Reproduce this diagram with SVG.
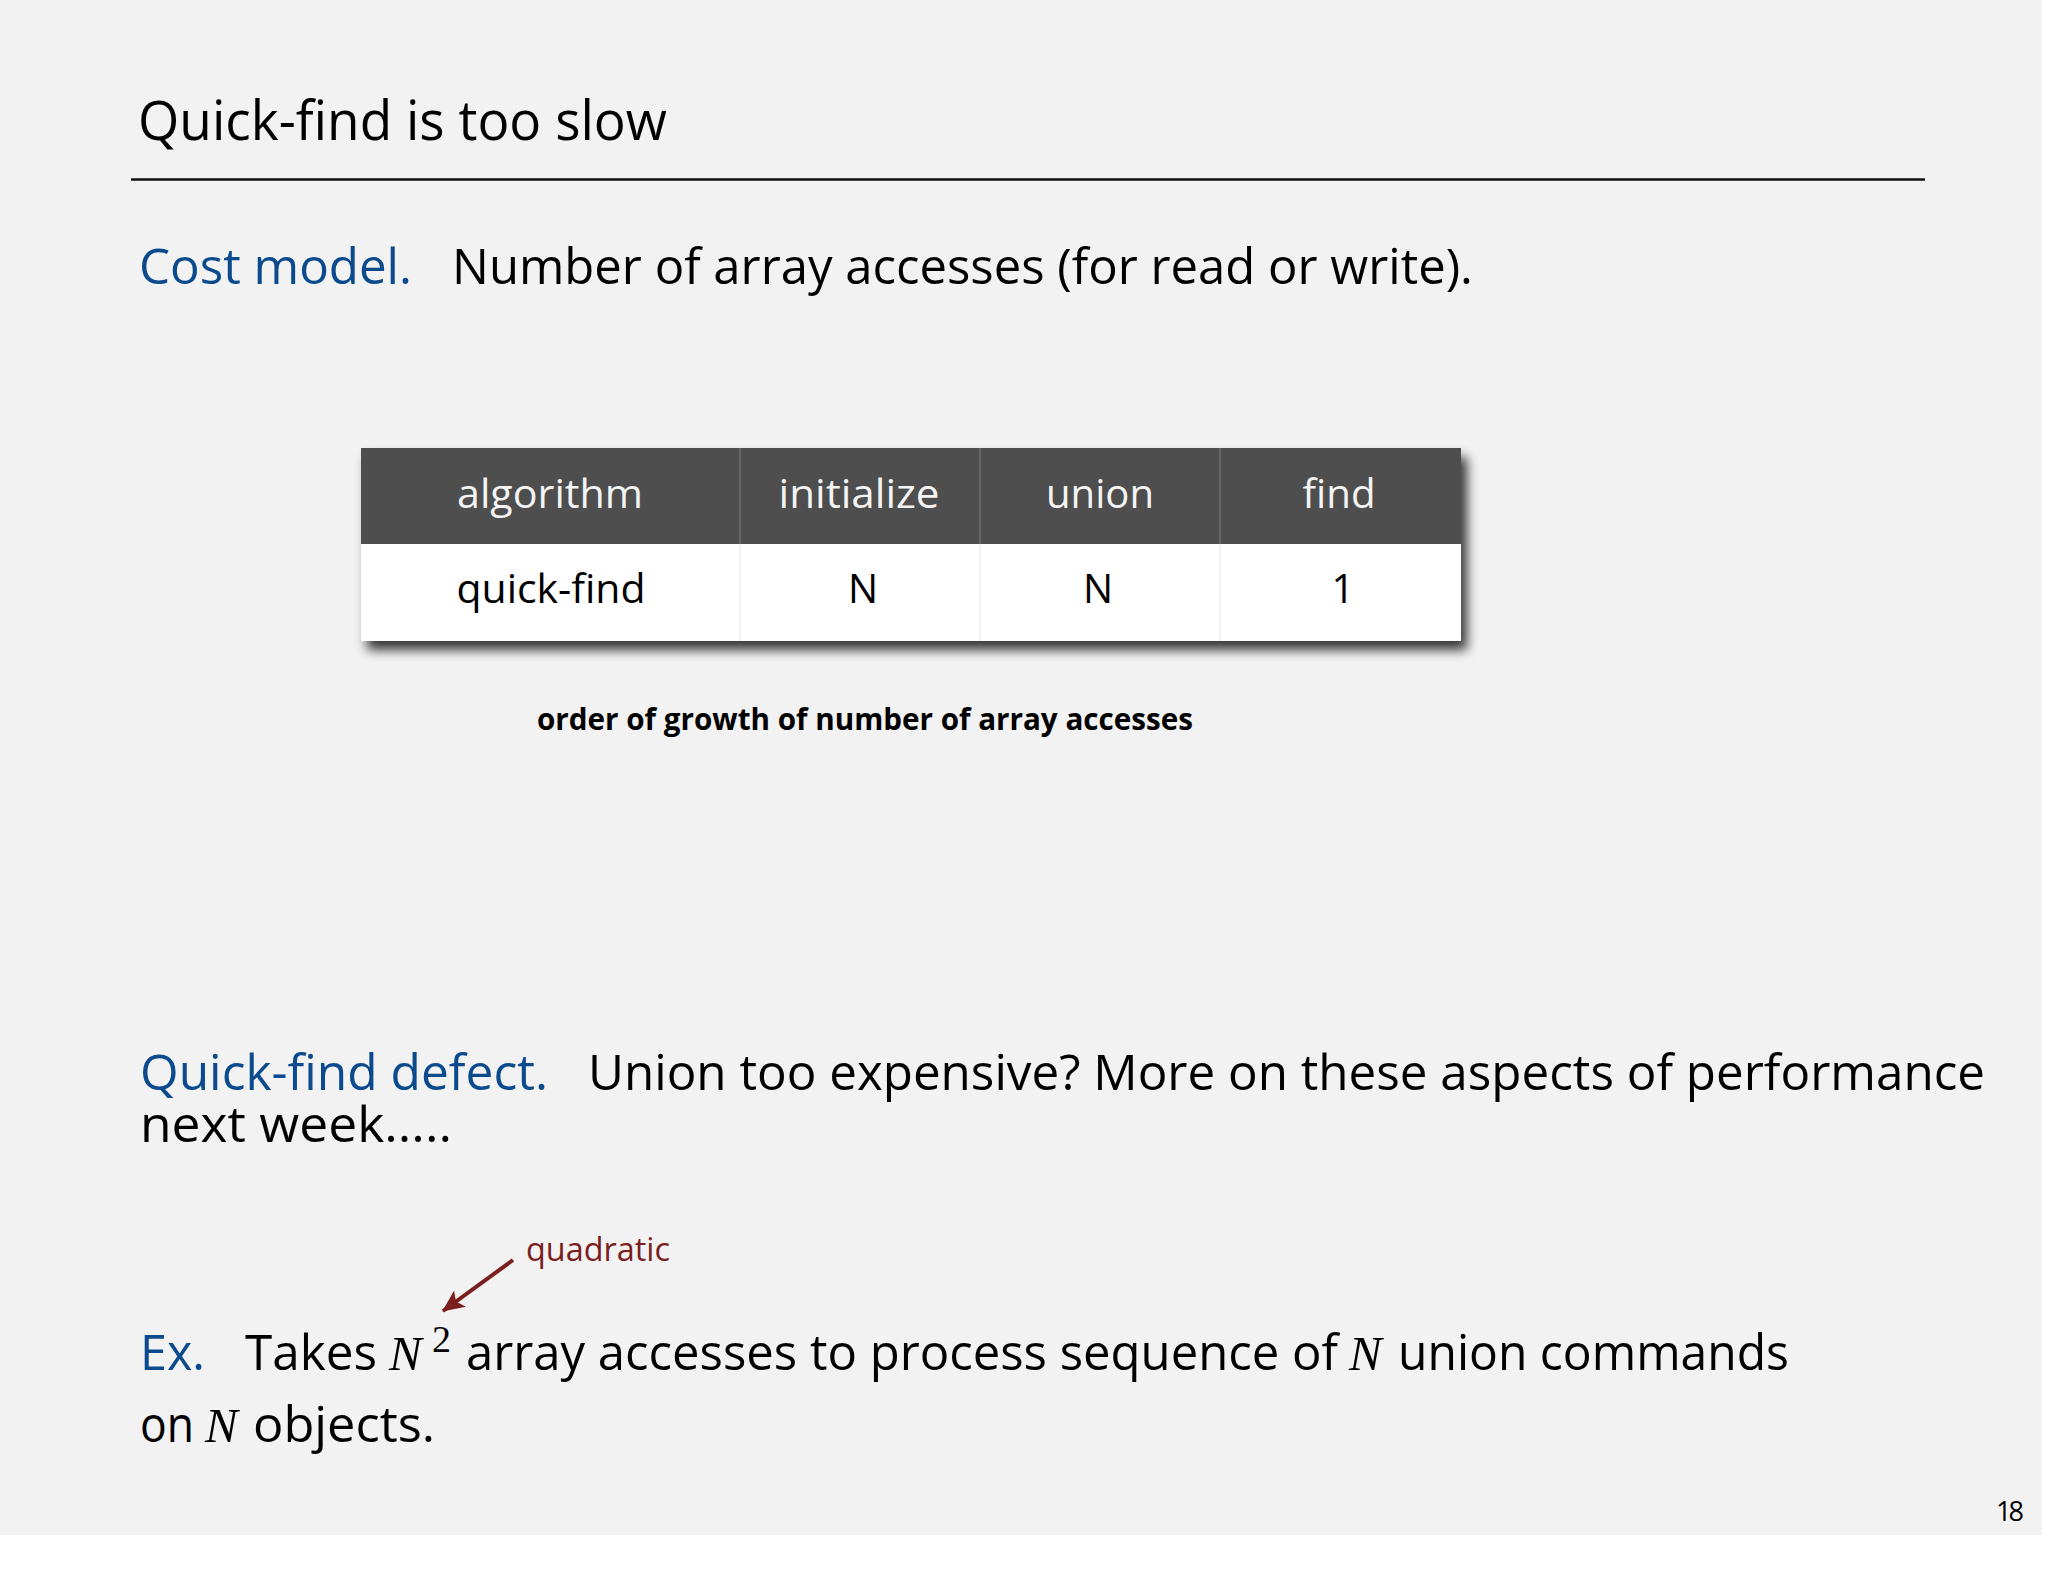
<svg xmlns="http://www.w3.org/2000/svg" width="2048" height="1582" viewBox="0 0 2048 1582">
  <defs>
    <style>
      .sans { font-family: "Open Sans", "Liberation Sans", sans-serif; }
      .body { font-family: "Open Sans", "Liberation Sans", sans-serif; font-size: 49px; fill: #000; }
      .blue { fill: #0b4a8c; }
      .math { font-family: "Liberation Serif", "DejaVu Serif", serif; font-style: italic; font-size: 49px; fill: #000; }
      .hdr { font-family: "Open Sans", "Liberation Sans", sans-serif; font-size: 40px; fill: #f4f4f4; text-anchor: middle; }
      .cell { font-family: "Open Sans", "Liberation Sans", sans-serif; font-size: 40px; fill: #000; text-anchor: middle; }
      .red { fill: #7a1e1e; }
    </style>
    <filter id="shadow" x="-5%" y="-20%" width="115%" height="160%">
      <feGaussianBlur in="SourceAlpha" stdDeviation="6"/>
      <feOffset dx="6" dy="9" result="off"/>
      <feComponentTransfer>
        <feFuncA type="linear" slope="0.78"/>
      </feComponentTransfer>
      <feMerge>
        <feMergeNode/>
        <feMergeNode in="SourceGraphic"/>
      </feMerge>
    </filter>
    <marker id="arrow" viewBox="0 0 22 20" markerWidth="22" markerHeight="20" refX="21" refY="10" orient="auto" markerUnits="userSpaceOnUse">
      <path d="M0,0 L22,10 L0,20 L5,10 z" fill="#7a1e1e"/>
    </marker>
  </defs>

  <rect x="0" y="0" width="2048" height="1582" fill="#ffffff"/>
  <rect x="0" y="0" width="2042" height="1535" fill="#f2f2f2"/>

  <g id="title">
    <text class="sans" x="138" y="140" font-size="54" fill="#000" textLength="529" lengthAdjust="spacingAndGlyphs">Quick-find is too slow</text>
    <line x1="131" y1="179.5" x2="1925" y2="179.5" stroke="#111" stroke-width="2.6"/>
  </g>

  <g id="cost-model">
    <text class="body blue" x="139" y="284" textLength="273" lengthAdjust="spacingAndGlyphs">Cost model.</text>
    <text class="body" x="452" y="284" textLength="1021" lengthAdjust="spacingAndGlyphs">Number of array accesses (for read or write).</text>
  </g>

  <g id="table">
    <rect x="361" y="448" width="1100" height="193" fill="#ffffff" filter="url(#shadow)"/>
    <rect x="361" y="448" width="1100" height="96" fill="#4e4e4e"/>
    <rect x="361" y="544" width="1100" height="97" fill="#ffffff"/>
    <g stroke="#6e6e6e" stroke-width="1.6">
      <line x1="740" y1="448" x2="740" y2="544"/>
      <line x1="980" y1="448" x2="980" y2="544"/>
      <line x1="1220" y1="448" x2="1220" y2="544"/>
    </g>
    <g stroke="#f1f1f1" stroke-width="1.6">
      <line x1="740" y1="544" x2="740" y2="641"/>
      <line x1="980" y1="544" x2="980" y2="641"/>
      <line x1="1220" y1="544" x2="1220" y2="641"/>
    </g>
    <text class="hdr" x="550" y="508" textLength="186" lengthAdjust="spacingAndGlyphs">algorithm</text>
    <text class="hdr" x="859" y="508" textLength="161" lengthAdjust="spacingAndGlyphs">initialize</text>
    <text class="hdr" x="1100" y="508" textLength="108" lengthAdjust="spacingAndGlyphs">union</text>
    <text class="hdr" x="1339" y="508" textLength="73" lengthAdjust="spacingAndGlyphs">find</text>
    <text class="cell" x="551" y="603" textLength="189" lengthAdjust="spacingAndGlyphs">quick-find</text>
    <text class="cell" x="863" y="603">N</text>
    <text class="cell" x="1098" y="603">N</text>
    <text class="cell" x="1343" y="603">1</text>
  </g>

  <g id="caption">
    <text class="sans" x="537" y="730" font-size="30" font-weight="bold" fill="#000" textLength="656" lengthAdjust="spacingAndGlyphs">order of growth of number of array accesses</text>
  </g>

  <g id="defect">
    <text class="body blue" x="140" y="1090" textLength="408" lengthAdjust="spacingAndGlyphs">Quick-find defect.</text>
    <text class="body" x="588" y="1090" textLength="1397" lengthAdjust="spacingAndGlyphs">Union too expensive? More on these aspects of performance</text>
    <text class="body" x="140" y="1142" textLength="312" lengthAdjust="spacingAndGlyphs">next week.....</text>
  </g>

  <g id="quadratic-label">
    <text class="sans red" x="526" y="1261" font-size="32" textLength="144" lengthAdjust="spacingAndGlyphs">quadratic</text>
  </g>

  <g id="connectors">
    <line x1="513" y1="1260" x2="443" y2="1311" stroke="#7a1e1e" stroke-width="4" marker-end="url(#arrow)"/>
  </g>

  <g id="example">
    <text class="body blue" x="140" y="1370" textLength="65" lengthAdjust="spacingAndGlyphs">Ex.</text>
    <text class="body" x="245" y="1370" textLength="132" lengthAdjust="spacingAndGlyphs">Takes</text>
    <text class="math" x="389" y="1370">N</text>
    <text x="432" y="1352" font-family="Liberation Serif, serif" font-size="38" fill="#000">2</text>
    <text class="body" x="466" y="1370" textLength="872" lengthAdjust="spacingAndGlyphs">array accesses to process sequence of</text>
    <text class="math" x="1349" y="1370">N</text>
    <text class="body" x="1398" y="1370" textLength="391" lengthAdjust="spacingAndGlyphs">union commands</text>
    <text class="body" x="140" y="1442" textLength="54" lengthAdjust="spacingAndGlyphs">on</text>
    <text class="math" x="205" y="1442">N</text>
    <text class="body" x="253" y="1442" textLength="182" lengthAdjust="spacingAndGlyphs">objects.</text>
  </g>

  <g id="page-number">
    <text class="sans" x="1996" y="1521" font-size="27" fill="#000" textLength="28" lengthAdjust="spacing">18</text>
  </g>
</svg>
